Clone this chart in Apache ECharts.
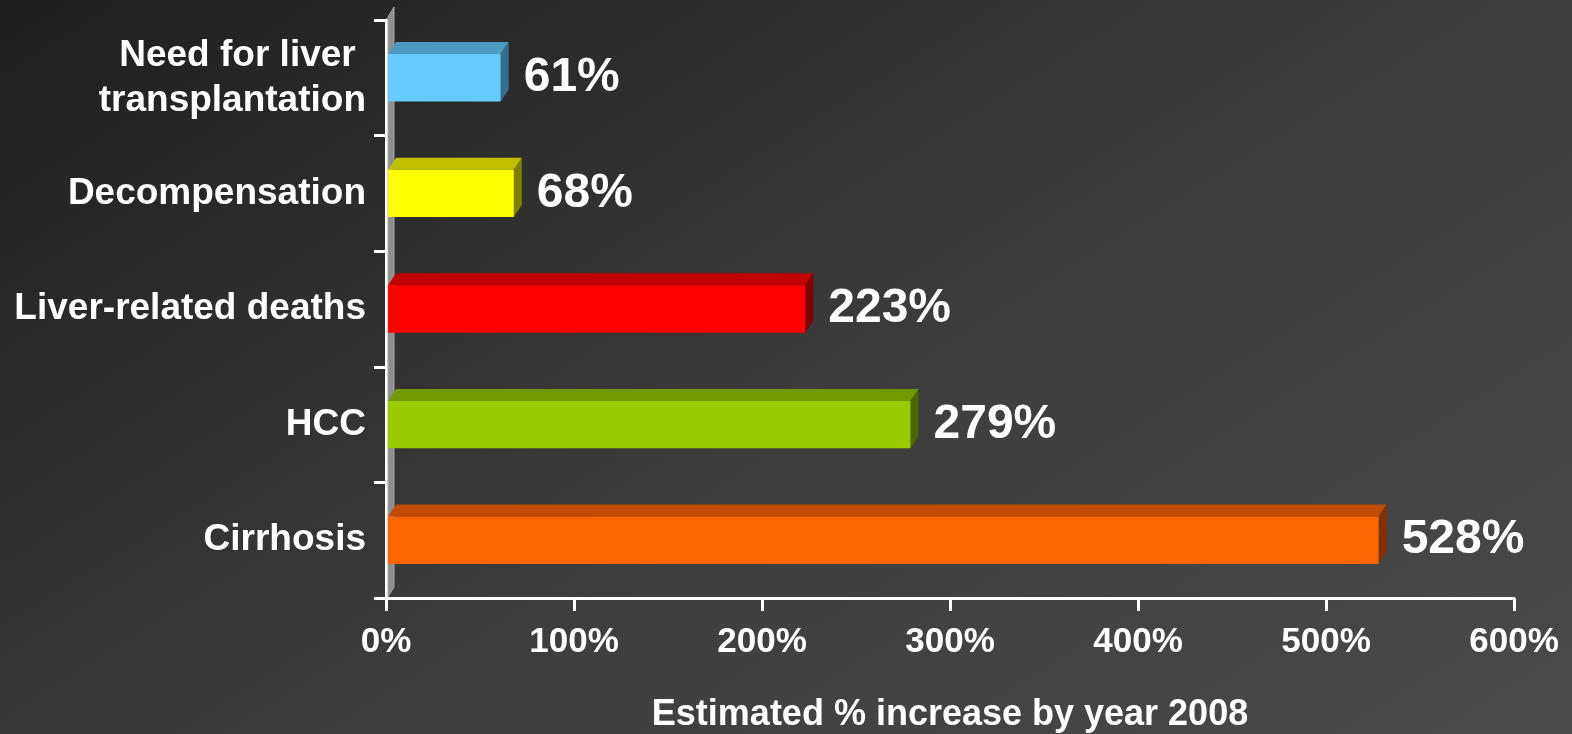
<!DOCTYPE html>
<html>
<head>
<meta charset="utf-8">
<script src="https://cdn.jsdelivr.net/npm/echarts@6/dist/echarts.min.js"></script>
<style>
  html, body { margin: 0; padding: 0; }
  #chart { width: 1572px; height: 734px; }
</style>
</head>
<body>
<div id="chart"></div>
<script>
// Outcome categories, top to bottom
const categories = [
  'Need for liver \ntransplantation',
  'Decompensation',
  'Liver-related deaths',
  'HCC',
  'Cirrhosis'
];
// Estimated % increase by 2008
const increases = [61, 68, 223, 279, 528];
// Front / top / side face colours of each bar
const frontColors = ['#66CCFF', '#FFFF00', '#FF0000', '#99CC00', '#FF6600'];
const topColors   = ['#4C9AC0', '#C0C000', '#C00000', '#739900', '#BF4D00'];
const sideColors  = ['#33708F', '#808000', '#800000', '#4D6600', '#803300'];
const xTicks = [0, 100, 200, 300, 400, 500, 600];

const FONT = '"Liberation Sans", Arial, sans-serif';
const DEPTH_X = 8, DEPTH_Y = -12;
const BAR_RATIO = 0.41;

function renderBar(params, api) {
  const v = api.value(0);
  const idx = api.value(1);
  const start = api.coord([0, idx]);
  const end = api.coord([v, idx]);
  const h = api.size([0, 1])[1] * BAR_RATIO;
  const x0 = start[0] + 2, x1 = end[0];
  const yT = end[1] - h / 2, yB = end[1] + h / 2;
  const i = params.dataIndex;
  return {
    type: 'group',
    children: [
      { type: 'polygon', shape: { points: [[x0, yT], [x0 + DEPTH_X, yT + DEPTH_Y], [x1 + DEPTH_X, yT + DEPTH_Y], [x1, yT]] },
        style: { fill: topColors[i] } },
      { type: 'polygon', shape: { points: [[x1, yT], [x1 + DEPTH_X, yT + DEPTH_Y], [x1 + DEPTH_X, yB + DEPTH_Y], [x1, yB]] },
        style: { fill: sideColors[i] } },
      { type: 'rect', shape: { x: x0, y: yT, width: x1 - x0, height: yB - yT },
        style: { fill: frontColors[i] } },
      { type: 'text', x: x1 + DEPTH_X + 15, y: end[1],
        style: { text: v + '%', fill: '#FFFFFF', font: 'bold 48px ' + FONT, verticalAlign: 'middle', align: 'left' } }
    ]
  };
}

// Thin grey side wall standing at the zero line
function renderWall(params, api) {
  const cs = params.coordSys;
  const x = cs.x + 2;
  const yTop = cs.y - 3, yBot = cs.y + cs.height - 1;
  return {
    type: 'polygon',
    shape: { points: [[x, yBot], [x, yTop], [x + 6, yTop - 10], [x + 6, yBot - 10]] },
    style: { fill: '#8E8E8E', stroke: '#A8A8A8', lineWidth: 1 }
  };
}

const chart = echarts.init(document.getElementById('chart'), null, { renderer: 'canvas' });
chart.setOption({
  backgroundColor: {
    type: 'linear', global: true, x: 0, y: 0, x2: 772, y2: 1238,
    colorStops: [
      { offset: 0, color: '#1E1E1E' },
      { offset: 0.57, color: '#3E3E3E' },
      { offset: 1, color: '#4A4A4A' }
    ]
  },
  animation: false,
  grid: { left: 386, right: 58, top: 20, bottom: 136, containLabel: false, outerBoundsMode: 'none' },
  xAxis: {
    type: 'value', min: 0, max: 600, interval: 100,
    name: 'Estimated % increase by year 2008',
    nameLocation: 'middle', nameGap: 99,
    nameTextStyle: { color: '#FFFFFF', fontFamily: FONT, fontWeight: 'bold', fontSize: 36 },
    axisLine: { show: true, lineStyle: { color: '#FFFFFF', width: 3 } },
    axisTick: { show: true, length: 13, lineStyle: { color: '#FFFFFF', width: 3 } },
    axisLabel: {
      color: '#FFFFFF', fontFamily: FONT, fontWeight: 'bold', fontSize: 35, margin: 27,
      formatter: v => xTicks.includes(v) ? v + '%' : ''
    },
    splitLine: { show: false }
  },
  yAxis: {
    type: 'category', data: categories, inverse: true,
    axisLine: { show: true, lineStyle: { color: '#FFFFFF', width: 3 } },
    axisTick: { show: true, length: 12, lineStyle: { color: '#FFFFFF', width: 3 } },
    axisLabel: {
      color: '#FFFFFF', fontFamily: FONT, fontWeight: 'bold', fontSize: 37,
      lineHeight: 45, margin: 20, align: 'right'
    },
    splitLine: { show: false }
  },
  series: [
    {
      type: 'custom', renderItem: renderWall, z: 1,
      data: [[0, 0]], encode: { x: 0, y: 1 }, silent: true
    },
    {
      type: 'custom', renderItem: renderBar, z: 2,
      data: increases.map((v, i) => [v, i]),
      encode: { x: 0, y: 1 }, silent: true
    }
  ]
});
</script>
</body>
</html>
